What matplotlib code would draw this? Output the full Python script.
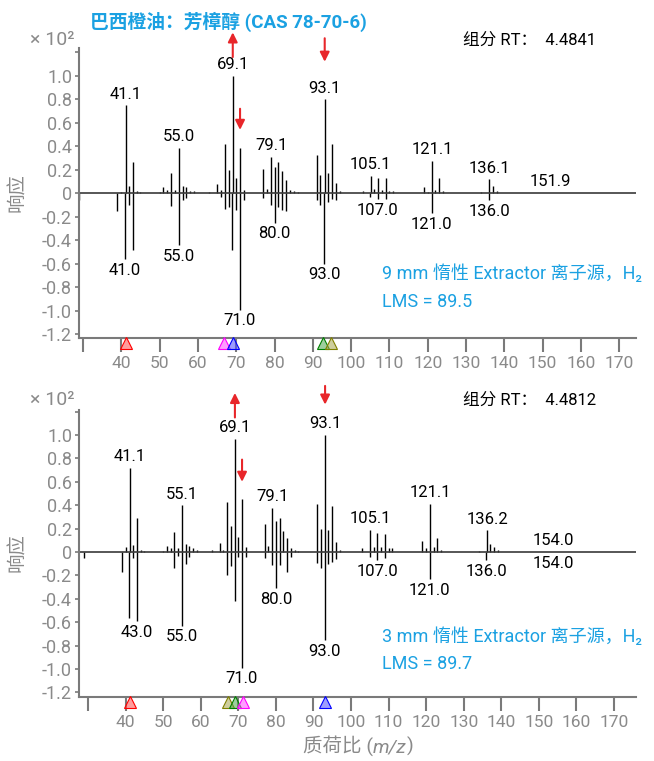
import matplotlib.pyplot as plt
import matplotlib.transforms as mtransforms

plt.rcParams['font.family'] = ['Roboto', 'Noto Sans CJK SC', 'DejaVu Sans']

W, H = 654, 761
GRAY = '#8a8a8a'
BLUE = '#1ba1e2'
RED = '#e8262a'

# 9 mm source: acquired spectrum (upper) and library spectrum (lower), x 10^2
mz_9mm = [40, 41.1, 42, 43, 44, 45, 50, 51, 52, 53, 54, 55.0, 56, 57, 58, 59,
          63, 65, 66, 67, 68, 69.1, 70, 71, 72, 77, 78, 79.1, 80, 81, 82, 83,
          84, 85, 86, 91, 92, 93.1, 94, 95, 96, 97, 103, 105.1, 106, 107, 108,
          109, 110, 111, 119, 120, 121.1, 122, 123, 124, 134, 136.1, 137, 138,
          151.9]
ab_9mm = [0.01, 0.75, 0.06, 0.27, 0.02, 0.01, 0.01, 0.05, 0.03, 0.17, 0.03,
          0.39, 0.06, 0.05, 0.02, 0.02, 0.01, 0.08, 0.03, 0.42, 0.20, 1.00,
          0.13, 0.39, 0.03, 0.21, 0.04, 0.31, 0.225, 0.27, 0.19, 0.11, 0.03,
          0.02, 0.01, 0.325, 0.155, 0.80, 0.17, 0.42, 0.085, 0.02, 0.02, 0.15,
          0.04, 0.13, 0.03, 0.13, 0.02, 0.02, 0.055, 0.01, 0.275, 0.03, 0.13,
          0.02, 0.01, 0.12, 0.06, 0.02, 0.004]
mz_9mm_lib = [29, 39, 41.0, 42, 43, 53, 55.0, 56, 57, 66, 67, 68, 69, 70,
              71.0, 72, 77, 79, 80.0, 81, 82, 83, 91, 92, 93.0, 94, 95, 96,
              105, 107.0, 109, 121.0, 136.0]
ab_9mm_lib = [0.06, 0.15, 0.56, 0.10, 0.48, 0.11, 0.44, 0.06, 0.04, 0.03,
              0.13, 0.12, 0.48, 0.14, 0.99, 0.06, 0.04, 0.10, 0.25, 0.12, 0.14,
              0.15, 0.06, 0.10, 0.60, 0.07, 0.05, 0.06, 0.03, 0.05, 0.05, 0.17,
              0.06]
labels_9mm = [41.1, 55.0, 69.1, 79.1, 93.1, 105.1, 121.1, 136.1, 151.9]
labels_9mm_lib = [41.0, 55.0, 71.0, 80.0, 93.0, 107.0, 121.0, 136.0]

# 3 mm source
mz_3mm = [40, 41.1, 42, 43, 44, 45, 50, 51, 52, 53, 54, 55.1, 56, 57, 58, 59,
          63, 65, 66, 67, 68, 69.1, 70, 71, 72, 77, 78, 79.1, 80, 81, 82, 83,
          84, 85, 86, 91, 92, 93.1, 94, 95, 96, 97, 103, 105.1, 106, 107, 108,
          109, 110, 111, 119, 120, 121.1, 122, 123, 124, 134, 136.2, 137, 138,
          139, 154.0]
ab_3mm = [0.04, 0.72, 0.06, 0.29, 0.02, 0.01, 0.01, 0.05, 0.03, 0.17, 0.03,
          0.40, 0.07, 0.055, 0.03, 0.02, 0.02, 0.08, 0.02, 0.43, 0.22, 0.97,
          0.13, 0.455, 0.04, 0.24, 0.05, 0.38, 0.265, 0.29, 0.18, 0.12, 0.03,
          0.02, 0.01, 0.41, 0.195, 1.00, 0.185, 0.39, 0.085, 0.02, 0.03, 0.19,
          0.04, 0.165, 0.04, 0.15, 0.03, 0.03, 0.09, 0.03, 0.41, 0.04, 0.12,
          0.02, 0.01, 0.185, 0.065, 0.04, 0.02, 0.004]
mz_3mm_lib = [29, 39, 41, 42, 43.0, 53, 54, 55.0, 56, 57, 67, 68, 69, 70,
              71.0, 72, 77, 79, 80.0, 81, 83, 84, 91, 92, 93.0, 94, 95, 96,
              105, 107.0, 109, 121.0, 136.0, 154.0]
ab_3mm_lib = [0.055, 0.17, 0.56, 0.05, 0.59, 0.14, 0.03, 0.63, 0.10, 0.04,
              0.20, 0.12, 0.42, 0.04, 0.99, 0.04, 0.05, 0.11, 0.31, 0.11, 0.17,
              0.04, 0.09, 0.14, 0.755, 0.10, 0.085, 0.06, 0.04, 0.07, 0.05,
              0.23, 0.07, 0.004]
labels_3mm = [41.1, 55.1, 69.1, 79.1, 93.1, 105.1, 121.1, 136.2, 154.0]
labels_3mm_lib = [43.0, 55.0, 71.0, 80.0, 93.0, 107.0, 121.0, 136.0, 154.0]

# component markers on the m/z axis
marker_colors = {'r': ('#ff0000', (1, 0.3, 0.3, 0.55)),
                 'm': ('#ff00ff', (1, 0.3, 1, 0.55)),
                 'b': ('#0000ff', (0.3, 0.3, 1, 0.55)),
                 'g': ('#008000', (0.3, 0.65, 0.3, 0.55)),
                 'y': ('#808000', (0.65, 0.65, 0.3, 0.55))}
markers_9mm = [(41.1, 'r'), (66.8, 'm'), (69.2, 'b'), (92.7, 'g'), (94.8, 'y')]
markers_3mm = [(41.3, 'r'), (67.2, 'y'), (69.1, 'g'), (71.3, 'm'), (93.1, 'b')]

# red arrows (mz, tail, head)
arrows_9mm = [(69.1, 1.16, 1.37), (71.0, 0.72, 0.54), (93.1, 1.32, 1.12)]
arrows_3mm = [(69.1, 1.15, 1.36), (71.0, 0.79, 0.60), (93.1, 1.42, 1.26)]

rt_9mm, rt_3mm = 4.4841, 4.4812
lms_9mm, lms_3mm = 89.5, 89.7


def px(x, y):
    return x / W, 1 - y / H


fig = plt.figure(figsize=(W / 100, H / 100), dpi=100)


def draw_panel(rect, xlim, ylim, mz, ab, mz_lib, ab_lib, lab, lab_lib,
               markers, arrows):
    ax = fig.add_axes(rect)
    ax.vlines(mz, 0, ab, color='k', lw=1.0)
    ax.vlines(mz_lib, 0, [-v for v in ab_lib], color='k', lw=1.0)
    ax.axhline(0, color='#3a3a3a', lw=1.2)

    up = dict(zip(mz, ab))
    dn = dict(zip(mz_lib, ab_lib))
    for m in lab:
        ax.annotate(f'{m:.1f}', (m, up[m]), xytext=(0, 8), textcoords='offset points',
                    ha='center', va='center', fontsize=12, annotation_clip=False)
    for m in lab_lib:
        ax.annotate(f'{m:.1f}', (m, -dn[m]), xytext=(0, -8), textcoords='offset points',
                    ha='center', va='center', fontsize=12, annotation_clip=False)

    for m, tail, head in arrows:
        ax.annotate('', xy=(m, head), xytext=(m, tail), annotation_clip=False,
                    arrowprops=dict(arrowstyle='-|>', color=RED, lw=1.5,
                                    mutation_scale=14, shrinkA=0, shrinkB=0))

    tr = mtransforms.offset_copy(ax.get_xaxis_transform(), fig=fig, y=-5, units='dots')
    for m, c in markers:
        ec, fc = marker_colors[c]
        ax.plot(m, 0, marker='^', ms=9, mfc=fc, mec=ec, mew=0.8,
                transform=tr, clip_on=False, zorder=5)

    ax.set_xlim(*xlim)
    ax.set_ylim(*ylim)
    ax.set_xticks(range(30, 171, 10))
    ax.set_xticklabels([''] + [str(v) for v in range(40, 171, 10)])
    yt = [round(-1.2 + 0.2 * i, 1) for i in range(13)]
    ax.set_yticks(yt)
    ax.set_yticklabels([('0' if v == 0 else f'{v:.1f}') for v in yt[:-1]] + [''])
    for s in ('top', 'right'):
        ax.spines[s].set_visible(False)
    for s in ('left', 'bottom'):
        ax.spines[s].set_color('#7a7a7a')
        ax.spines[s].set_linewidth(1.5)
    ax.tick_params(axis='y', length=3, width=1.2, color='#7a7a7a', pad=2,
                   labelsize=13, labelcolor=GRAY)
    ax.tick_params(axis='x', length=10, width=1.5, color='#7a7a7a', pad=3,
                   labelsize=12.5, labelcolor=GRAY)
    return ax


ax1 = draw_panel([79 / W, 1 - 338 / H, 557 / W, 290 / H], (28.96, 174.36),
                 (-1.231, 1.237), mz_9mm, ab_9mm, mz_9mm_lib, ab_9mm_lib,
                 labels_9mm, labels_9mm_lib, markers_9mm, arrows_9mm)
ax2 = draw_panel([79 / W, 1 - 696.7 / H, 557 / W, 286.7 / H], (27.6, 175.86),
                 (-1.237, 1.214), mz_3mm, ab_3mm, mz_3mm_lib, ab_3mm_lib,
                 labels_3mm, labels_3mm_lib, markers_3mm, arrows_3mm)

fig.text(*px(90, 22), '巴西橙油：芳樟醇 (CAS 78-70-6)', color=BLUE, fontsize=13.5,
         fontweight='bold', va='center')

for y0, rt, lms, size in ((0, rt_9mm, lms_9mm, 9), (360, rt_3mm, lms_3mm, 3)):
    fig.text(*px(463, 40 + y0), f'组分 RT：  {rt:.4f}', fontsize=12, va='center')
    fig.text(*px(30, 40 + y0), '× 10²', fontsize=14, color=GRAY, va='center')
    fig.text(*px(18, 192 + y0), '响应', fontsize=14, color=GRAY, va='center',
             ha='center', rotation=90)
    fig.text(*px(382, 274 + y0 + (0 if size == 9 else 3)),
             f'{size} mm 惰性 Extractor 离子源，H₂', fontsize=13, color=BLUE, va='center')
    fig.text(*px(382, 302 + y0 + (0 if size == 9 else 2)), f'LMS = {lms}',
             fontsize=13, color=BLUE, va='center')

t1 = fig.text(*px(303, 746), '质荷比 (', fontsize=14, color=GRAY, va='center')
t2 = ax2.annotate('m/z', xy=(1, 0), xycoords=t1, va='bottom', fontsize=14,
                  color=GRAY, style='italic')
ax2.annotate(')', xy=(1, 0), xycoords=t2, va='bottom', fontsize=14, color=GRAY)

fig.savefig('out.png', dpi=100)
